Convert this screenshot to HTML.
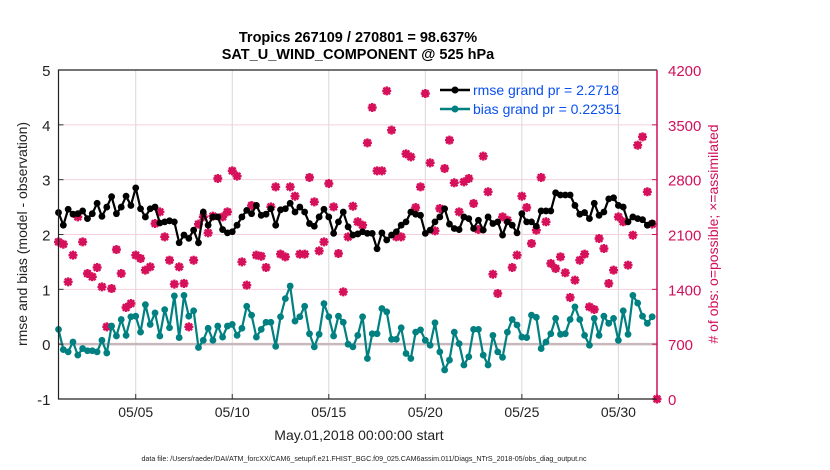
<!DOCTYPE html>
<html><head><meta charset="utf-8"><style>
html,body{margin:0;padding:0;background:#fff;}
svg{display:block;font-family:"Liberation Sans",Arial,sans-serif;}
</style></head><body>
<svg id="chart" width="830" height="470" viewBox="0 0 830 470" xmlns="http://www.w3.org/2000/svg">
<rect width="830" height="470" fill="#fff"/>
<g id="grid"></g>
<g id="series"></g>
<g id="axes"></g>
<text x="358" y="42" text-anchor="middle" font-size="14.5" font-weight="bold" fill="#000">Tropics 267109 / 270801 = 98.637%</text>
<text x="358" y="59" text-anchor="middle" font-size="14.5" font-weight="bold" fill="#000">SAT_U_WIND_COMPONENT @ 525 hPa</text>
<text x="359" y="440" text-anchor="middle" font-size="14" fill="#222">May.01,2018 00:00:00 start</text>
<text x="364" y="461" text-anchor="middle" font-size="7.1" fill="#222">data file: /Users/raeder/DAI/ATM_forcXX/CAM6_setup/f.e21.FHIST_BGC.f09_025.CAM6assim.011/Diags_NTrS_2018-05/obs_diag_output.nc</text>
<text transform="translate(27,234) rotate(-90)" text-anchor="middle" font-size="14" fill="#222">rmse and bias (model - observation)</text>
<text transform="translate(718,234) rotate(-90)" text-anchor="middle" font-size="14" fill="#d0105a"># of obs: o=possible; ×=assimilated</text>
<g>
  <line x1="440" y1="90" x2="470" y2="90" stroke="#000" stroke-width="2.5"/>
  <circle cx="455" cy="90" r="3.5" fill="#000"/>
  <text x="473" y="95" font-size="14" fill="#0a50f0">rmse grand pr = 2.2718</text>
  <line x1="440" y1="109" x2="470" y2="109" stroke="#008080" stroke-width="2.5"/>
  <circle cx="455" cy="109" r="3.5" fill="#008080"/>
  <text x="473" y="114" font-size="14" fill="#0a50f0">bias grand pr = 0.22351</text>
</g>
</svg>
<script>
const rmse=[2.40,2.17,2.46,2.37,2.38,2.43,2.29,2.38,2.57,2.33,2.50,2.69,2.38,2.50,2.70,2.53,2.85,2.47,2.32,2.47,2.50,2.21,2.23,2.25,2.23,1.85,1.99,1.93,2.08,1.85,2.41,2.17,
2.32,2.32,2.09,2.03,2.05,2.17,2.32,2.44,2.38,2.53,2.35,2.37,2.47,2.17,2.45,2.47,2.57,2.41,2.50,2.41,2.20,2.15,2.32,2.46,2.32,2.02,2.23,2.41,2.14,1.99,2.01,
2.05,2.02,2.02,1.74,2.03,1.90,1.99,2.05,2.17,2.23,2.41,2.37,2.35,2.02,2.08,2.23,2.32,2.47,2.19,2.11,2.09,2.32,2.29,2.11,2.26,2.08,2.32,2.20,2.23,1.99,2.23,
2.17,2.03,2.38,2.23,2.23,2.15,2.43,2.43,2.43,2.76,2.72,2.72,2.72,2.53,2.37,2.40,2.29,2.57,2.35,2.41,2.65,2.67,2.53,2.50,2.23,2.32,2.29,2.27,2.17,2.21];
const bias=[0.27,-0.10,-0.14,0.04,-0.20,-0.08,-0.12,-0.12,-0.14,0.07,-0.16,0.33,0.15,0.45,0.16,0.50,0.51,0.22,0.72,0.36,0.57,0.15,0.63,0.30,0.88,0.12,0.89,0.51,0.61,-0.06,0.07,0.29,
0.07,0.33,0.13,0.33,0.36,0.16,0.29,0.69,0.53,0.13,0.27,0.40,0.40,-0.04,0.50,0.83,1.06,0.42,0.50,0.69,0.19,-0.05,0.18,0.74,0.50,0.15,0.51,0.40,0.00,-0.05,0.16,
0.50,-0.26,0.19,0.19,0.65,0.59,0.09,0.09,0.30,-0.17,-0.26,0.22,0.26,0.07,-0.02,0.39,-0.14,-0.47,-0.29,0.22,0.01,-0.38,-0.23,0.27,0.27,-0.20,-0.38,0.16,-0.14,-0.24,0.22,
0.45,0.35,0.13,0.12,0.53,0.49,-0.08,0.04,0.19,0.47,0.18,0.19,0.45,0.68,0.45,0.16,-0.02,0.47,0.16,0.51,0.38,0.47,0.07,0.61,0.18,0.89,0.75,0.51,0.38,0.50];
const nposs=[2006,1976,1496,1836,2325,2006,1602,1560,1679,1432,921,1410,1908,1602,1168,1219,1836,1794,1645,1687,2240,2389,2070,1772,1466,1687,1475,921,1772,2232,2325,2121,
2334,2815,2325,2389,2913,2845,1751,1453,2470,1836,1823,1679,2453,2708,1849,1815,2708,2589,1849,1849,2828,2517,1891,2006,2751,2453,1857,1368,2070,2461,2262,
2219,3270,3721,2913,2913,3933,3432,2070,2070,3130,3091,2444,2708,3900,3015,2147,2432,2943,3304,2760,2389,2772,2815,2496,2164,3100,2645,1593,1347,2325,2283,
1679,1836,2589,2444,1985,2155,2828,2262,1730,1666,1815,1611,1296,1517,1772,1849,1176,1143,2049,1921,1475,1645,2325,2262,1709,2091,3240,3347,2645,2232,0];
const nassim=nposs.slice();
const leftTicks=[-1,0,1,2,3,4,5];
const rightTicks=[0,700,1400,2100,2800,3500,4200];
const dayTicks=[4,9,14,19,24,29];
const dayLabels=["05/05","05/10","05/15","05/20","05/25","05/30"];

const L=58.5,R=657,T=70,B=399;
const NS="http://www.w3.org/2000/svg";
const xS=d=>L+(d/31)*(R-L);
const yL=v=>B-(v+1)/6*(B-T);
const yR=n=>B-n/4200*(B-T);
function mk(tag,attrs,parent){const e=document.createElementNS(NS,tag);for(const k in attrs)e.setAttribute(k,attrs[k]);parent.appendChild(e);return e;}
const grid=document.getElementById('grid'),ser=document.getElementById('series'),ax=document.getElementById('axes');

dayTicks.forEach((d,i)=>{
  const g=mk('line',{x1:xS(d),x2:xS(d),y1:T,y2:B,stroke:'#d8d8d8','stroke-width':1},grid);
  
  
  const t=mk('line',{x1:xS(d),x2:xS(d),y1:B,y2:B-5,stroke:'#333'},ax);
  
  
  const lb=mk('text',{x:xS(d),y:B+18,'text-anchor':'middle','font-size':14,fill:'#222'},ax);
  lb.textContent=dayLabels[i];
  
  
});
rightTicks.forEach(n=>{
  if(n>0&&n<4200){const g=mk('line',{x1:L,x2:R,y1:yR(n),y2:yR(n),stroke:'#f5d0dc','stroke-width':1},grid);
  
  }
  const t=mk('line',{x1:R,x2:R-5,y1:yR(n),y2:yR(n),stroke:'#d0105a'},ax);
  
  
  const lb=mk('text',{x:R+11,y:yR(n)+6,'font-size':15,fill:'#d0105a'},ax);
  lb.textContent=n;
  
  
});
const zl=mk('line',{x1:L,x2:R,y1:yL(0),y2:yL(0),stroke:'#c8b8bc','stroke-width':2.5},grid);


leftTicks.forEach(v=>{
  const t=mk('line',{x1:L,x2:L+5,y1:yL(v),y2:yL(v),stroke:'#333'},ax);
  
  
  const lb=mk('text',{x:L-8,y:yL(v)+6,'text-anchor':'end','font-size':15,fill:'#222'},ax);
  lb.textContent=v;
  
  
});
const fr=mk('path',{d:`M${R},${T}H${L}V${B}H${R}`,fill:'none',stroke:'#222','stroke-width':1.2},ax);


const ra=mk('line',{x1:R,x2:R,y1:T,y2:B,stroke:'#d0105a','stroke-width':1.5},ax);



nposs.forEach((n,i)=>{
  const x=xS(i/4),y=yR(n),ya=yR(nassim[i]);
  const c=mk('circle',{cx:x,cy:y,r:3,fill:'none',stroke:'#d6105a','stroke-width':1.2},ser);
  
  
  const s=mk('path',{d:`M${x-4.5},${ya}H${x+4.5}M${x},${ya-4.5}V${ya+4.5}M${x-3.3},${ya-3.3}L${x+3.3},${ya+3.3}M${x-3.3},${ya+3.3}L${x+3.3},${ya-3.3}`,stroke:'#d6105a','stroke-width':2.4,fill:'none'},ser);
  
  
});
function line(arr,col,name){
  const d=arr.map((v,i)=>(i?'L':'M')+xS(i/4).toFixed(2)+','+yL(v).toFixed(2)).join('');
  const p=mk('path',{d:d,fill:'none',stroke:col,'stroke-width':2.2},ser);
  
  
  arr.forEach((v,i)=>{
    const c=mk('circle',{cx:xS(i/4),cy:yL(v),r:3.4,fill:col},ser);
    
    
  });
}
line(rmse,'#000','rmse');
line(bias,'#008080','bias');
</script>
</body></html>
